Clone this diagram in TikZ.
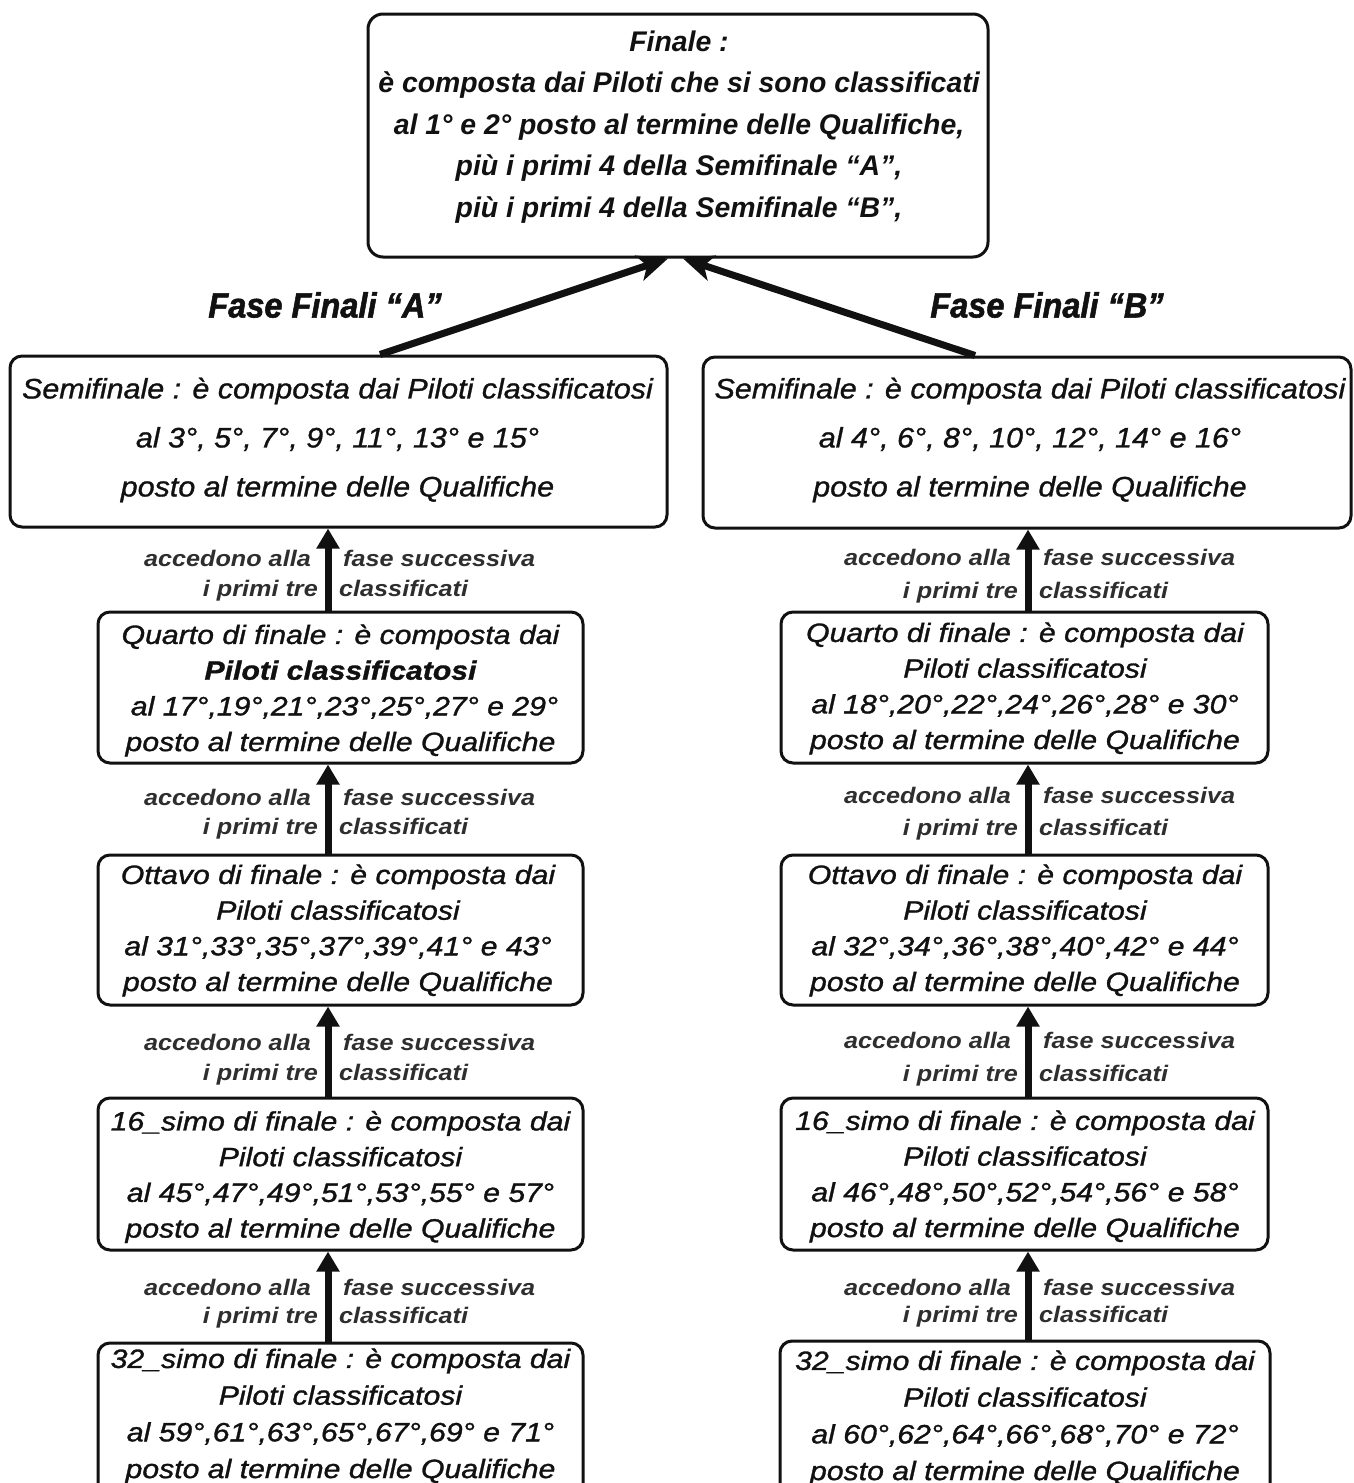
\documentclass[tikz,border=0pt]{standalone}
\usepackage{fontspec}
\setmainfont{Liberation Sans}
\newfontfamily\topfont{Liberation Sans}
\newfontfamily\semfont[FakeStretch=1.08,FakeBold=1.0]{Liberation Sans}
\newfontfamily\smallfont[FakeStretch=1.14,FakeBold=1.2]{Liberation Sans}
\newfontfamily\lblfont[FakeStretch=1.12]{Liberation Sans}
\newfontfamily\fasefont[FakeStretch=0.93,FakeBold=1.5]{Liberation Sans}
\usetikzlibrary{arrows.meta}
\definecolor{lblgray}{HTML}{2E2E2E}
\definecolor{ink}{HTML}{111111}
\newcommand\gaplbl[4]{%
  \node[lbl,anchor=mid east] (#1a) at (#2-17,#3+6) {accedono alla};
  \node[lbl,anchor=mid east] (#1b) at (#2-10,#4+6) {i primi tre};
  \node[lbl,anchor=mid west] (#1c) at (#2+15,#3+6) {fase successiva};
  \node[lbl,anchor=mid west] (#1d) at (#2+11,#4+6) {classificati};}
\begin{document}
\begin{tikzpicture}[x=1pt,y=-1pt,
  box/.style={draw=ink,line width=3pt,rounded corners=12pt,inner sep=0pt,fill=white},
  toptxt/.style={align=center,text=ink,font=\topfont\bfseries\itshape\fontsize{28.4}{41.5}\selectfont},
  semtxt/.style={align=center,text=ink,font=\semfont\itshape\fontsize{28.2}{49}\selectfont},
  smtxt/.style={align=center,text=ink,font=\smallfont\itshape\fontsize{26.5}{35.7}\selectfont},
  lbl/.style={font=\lblfont\bfseries\itshape\fontsize{22.5}{27}\selectfont,text=lblgray,inner sep=0pt},
  fase/.style={font=\fasefont\bfseries\itshape\fontsize{35}{40}\selectfont,text=ink,inner sep=0pt},
  uparrow/.style={draw=ink,line width=7pt,-{Triangle[length=20pt,width=22pt]}},
  diag/.style={draw=ink,line width=7pt,-{Stealth[length=30pt,width=26pt,inset=8pt]}}]
\clip (0,0) rectangle (1353,1483);
\fill[white] (0,0) rectangle (1353,1483);
\coordinate (xL) at (328,0);
\coordinate (xR) at (1028,0);

% Finale
\node[box,rounded corners=15pt,minimum width=620pt,minimum height=243pt] (fin) at (678,135.5) {};
\node[toptxt] (fint) at (679,127) {Finale :\\ è composta dai Piloti che si sono classificati\\ al 1° e 2° posto al termine delle Qualifiche,\\ più i primi 4 della Semifinale “A”,\\ più i primi 4 della Semifinale “B”,};

\node[fase] (faseA) at (325,305) {Fase Finali “A”};
\node[fase] (faseB) at (1047,305) {Fase Finali “B”};

% Semifinali
\node[box,minimum width=657pt,minimum height=171pt] (semA) at (338.5,441.5) {};
\node[semtxt] (semAt) at (337.5,440) {Semifinale : è composta dai Piloti classificatosi\\ al 3°, 5°, 7°, 9°, 11°, 13° e 15°\\ posto al termine delle Qualifiche};
\node[box,minimum width=648pt,minimum height=171pt] (semB) at (1027,442.5) {};
\node[semtxt] (semBt) at (1030,440) {Semifinale : è composta dai Piloti classificatosi\\ al 4°, 6°, 8°, 10°, 12°, 14° e 16°\\ posto al termine delle Qualifiche};

% Quarti
\node[box,minimum width=485pt,minimum height=151pt] (qA) at (340.5,687.5) {};
\node[smtxt] (qAt) at (340.5,690.5) {Quarto di finale : è composta dai\\ {\bfseries Piloti classificatosi}\\ \hspace*{8pt}al 17°,19°,21°,23°,25°,27° e 29°\\ posto al termine delle Qualifiche};
\node[box,minimum width=487pt,minimum height=151pt] (qB) at (1024.5,687.5) {};
\node[smtxt] (qBt) at (1025,688.5) {Quarto di finale : è composta dai\\ Piloti classificatosi\\ al 18°,20°,22°,24°,26°,28° e 30°\\ posto al termine delle Qualifiche};

% Ottavi
\node[box,minimum width=485pt,minimum height=150pt] (oA) at (340.5,930) {};
\node[smtxt] (oAt) at (338,930.5) {Ottavo di finale : è composta dai\\ Piloti classificatosi\\ al 31°,33°,35°,37°,39°,41° e 43°\\ posto al termine delle Qualifiche};
\node[box,minimum width=487pt,minimum height=150pt] (oB) at (1024.5,930) {};
\node[smtxt] (oBt) at (1025,930.5) {Ottavo di finale : è composta dai\\ Piloti classificatosi\\ al 32°,34°,36°,38°,40°,42° e 44°\\ posto al termine delle Qualifiche};

% Sedicesimi
\node[box,minimum width=485pt,minimum height=152pt] (sA) at (340.5,1174) {};
\node[smtxt] (sAt) at (340.5,1177) {16\_simo di finale : è composta dai\\ Piloti classificatosi\\ al 45°,47°,49°,51°,53°,55° e 57°\\ posto al termine delle Qualifiche};
\node[box,minimum width=487pt,minimum height=152pt] (sB) at (1024.5,1174) {};
\node[smtxt] (sBt) at (1025,1176.5) {16\_simo di finale : è composta dai\\ Piloti classificatosi\\ al 46°,48°,50°,52°,54°,56° e 58°\\ posto al termine delle Qualifiche};

% Trentaduesimi
\node[box,minimum width=485pt,minimum height=160pt] (tA) at (340.5,1423) {};
\node[smtxt,font=\smallfont\itshape\fontsize{26.5}{36.7}\selectfont] (tAt) at (340.5,1416) {32\_simo di finale : è composta dai\\ Piloti classificatosi\\ al 59°,61°,63°,65°,67°,69° e 71°\\ posto al termine delle Qualifiche};
\node[box,minimum width=490pt,minimum height=162pt] (tB) at (1025,1422) {};
\node[smtxt,font=\smallfont\itshape\fontsize{26.5}{36.7}\selectfont] (tBt) at (1025,1418) {32\_simo di finale : è composta dai\\ Piloti classificatosi\\ al 60°,62°,64°,66°,68°,70° e 72°\\ posto al termine delle Qualifiche};

% diagonal arrows
\draw[diag] ([xshift=41.5pt]semA.north) -- ([xshift=-10pt]fin.south);
\draw[diag] ([xshift=-52pt]semB.north) -- ([xshift=5pt]fin.south);

% vertical arrows
\draw[uparrow] (qA.north -| xL) -- (semA.south -| xL);
\draw[uparrow] (oA.north -| xL) -- (qA.south -| xL);
\draw[uparrow] (sA.north -| xL) -- (oA.south -| xL);
\draw[uparrow] (tA.north -| xL) -- (sA.south -| xL);
\draw[uparrow] (qB.north -| xR) -- (semB.south -| xR);
\draw[uparrow] (oB.north -| xR) -- (qB.south -| xR);
\draw[uparrow] (sB.north -| xR) -- (oB.south -| xR);
\draw[uparrow] (tB.north -| xR) -- (sB.south -| xR);

% labels
\gaplbl{g1L}{328}{558}{588}
\gaplbl{g2L}{328}{797}{826}
\gaplbl{g3L}{328}{1042}{1072}
\gaplbl{g4L}{328}{1287}{1315}
\gaplbl{g1R}{1028}{557}{590}
\gaplbl{g2R}{1028}{795}{827}
\gaplbl{g3R}{1028}{1040}{1073}
\gaplbl{g4R}{1028}{1287}{1314}
\end{tikzpicture}
\end{document}
